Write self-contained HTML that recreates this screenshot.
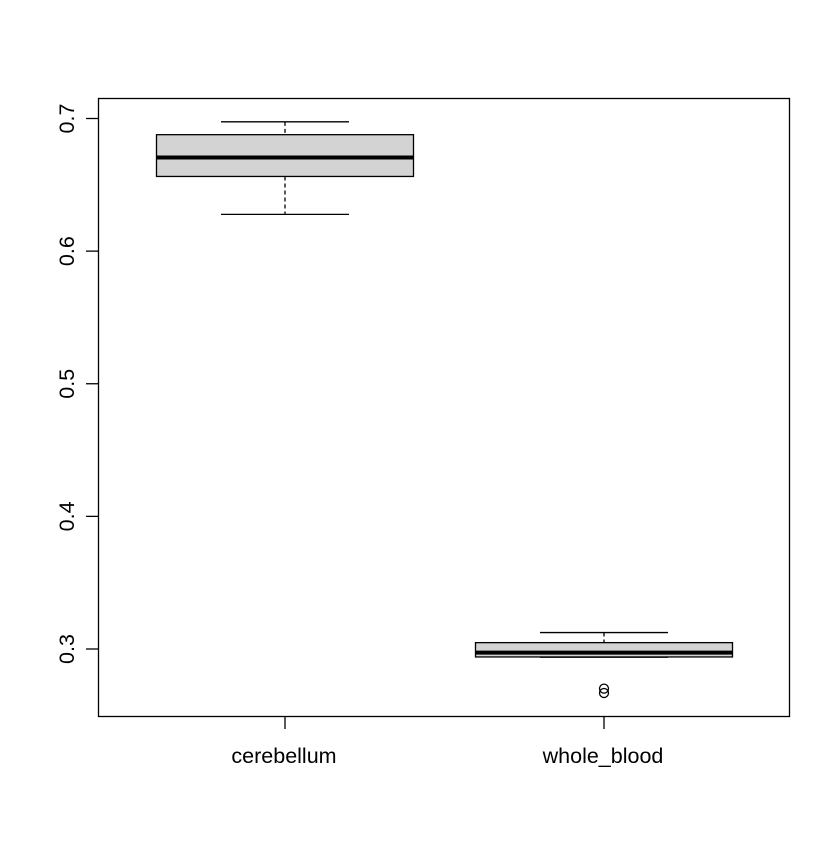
<!DOCTYPE html>
<html><head><meta charset="utf-8"><style>
body{margin:0;background:#fff}
svg text{font-family:"Liberation Sans",sans-serif;font-size:21.5px;fill:#000}
</style></head><body>
<svg id="chart" width="840" height="840" xmlns="http://www.w3.org/2000/svg">
<rect x="0" y="0" width="840" height="840" fill="#fff"/>
<rect x="98.5" y="98.5" width="691" height="618" fill="none" stroke="#000" stroke-width="1.3"/>
<g id="g"></g>
</svg>
<script>
const categories=["cerebellum","whole_blood"];
const whiskerLow=[0.6277,0.2938];
const q1=[0.6563,0.294];
const medians=[0.6706,0.2973];
const q3=[0.6878,0.3048];
const whiskerHigh=[0.6975,0.3124];
const outliers=[[],[0.2701,0.2668]];
const yTicks=[0.3,0.4,0.5,0.6,0.7];
const yTickLabels=["0.3","0.4","0.5","0.6","0.7"];
const NS="http://www.w3.org/2000/svg";
const g=document.getElementById('g');
function y(v){return 118.5+(0.7-v)*1326.25;}
function x(i){return 285+i*319;}
function mk(t,a){const e=document.createElementNS(NS,t);for(const k in a)e.setAttribute(k,a[k]);g.appendChild(e);return e;}
yTicks.forEach((v,i)=>{
 const l=mk('line',{x1:98.5,x2:86,y1:y(v),y2:y(v),stroke:'#000','stroke-width':1.3});
 
 
 const t=mk('text',{x:0,y:0,'text-anchor':'middle',transform:`translate(74,${y(v)}) rotate(-90)`});
 t.textContent=yTickLabels[i];
 
 
});
categories.forEach((c,i)=>{
 const cx=x(i);
 const tk=mk('line',{x1:cx,x2:cx,y1:716.5,y2:729,stroke:'#000','stroke-width':1.3});
 
 
 const t=mk('text',{x:cx-1,y:763,'text-anchor':'middle'});t.textContent=c;
 
 
 const w1=mk('line',{x1:cx,x2:cx,y1:y(whiskerHigh[i]),y2:y(q3[i]),stroke:'#000','stroke-width':1.3,'stroke-dasharray':'4,3'});
 
 
 const w2=mk('line',{x1:cx,x2:cx,y1:y(q1[i]),y2:y(whiskerLow[i]),stroke:'#000','stroke-width':1.3,'stroke-dasharray':'4,3'});
 
 
 const c1=mk('line',{x1:cx-64,x2:cx+64,y1:y(whiskerHigh[i]),y2:y(whiskerHigh[i]),stroke:'#000','stroke-width':1.3});
 
 
 const c2=mk('line',{x1:cx-64,x2:cx+64,y1:y(whiskerLow[i]),y2:y(whiskerLow[i]),stroke:'#000','stroke-width':1.3});
 
 
 const b=mk('rect',{x:cx-128.5,y:y(q3[i]),width:257,height:y(q1[i])-y(q3[i]),fill:'#d3d3d3',stroke:'#000','stroke-width':1.3});
 
 
 const m=mk('line',{x1:cx-128.5,x2:cx+128.5,y1:y(medians[i]),y2:y(medians[i]),stroke:'#000','stroke-width':4});
 
 
 outliers[i].forEach(o=>{
  const p=mk('circle',{cx:cx,cy:y(o),r:4.5,fill:'none',stroke:'#000','stroke-width':1.3});
  
  
 });
});
</script>
</body></html>
